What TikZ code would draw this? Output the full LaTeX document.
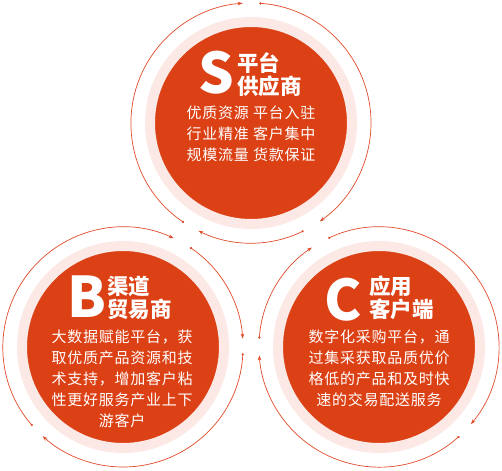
\documentclass[tikz,border=0pt]{standalone}
\usepackage{fontspec}
\setmainfont{Noto Sans CJK SC}
\usetikzlibrary{arrows.meta}
\definecolor{mainred}{HTML}{DC4115}
\definecolor{ringpink}{HTML}{FCE8E4}
\definecolor{arcred}{HTML}{E04A28}
\tikzset{
  disc/.style={circle, fill=mainred, draw=ringpink, line width=10pt, minimum size=202pt, inner sep=0pt},
  flowarc/.style={draw=arcred, line width=0.7pt, {Circle[length=2.2pt]}-{Stealth[length=5pt,width=3.5pt]}},
  bigletter/.style={text=white, font=\fontsize{56}{56}\selectfont\bfseries, inner sep=0pt},
  titletext/.style={text=white, font=\fontsize{21.5}{23}\selectfont\bfseries, align=left, inner sep=0pt},
  bodytext/.style={text=white, font=\fontsize{15}{21}\selectfont\addfontfeatures{LetterSpace=5}, align=center, inner sep=0pt}
}
\begin{document}
\begin{tikzpicture}[x=1pt,y=1pt]
\useasboundingbox (0,0) rectangle (502,470);
% discs
\node[disc] (S) at (251,347) {};
\node[disc] (B) at (123,123) {};
\node[disc] (C) at (379,123) {};
% outer arcs S
\draw[flowarc] ([shift={(86:120)}]S.center) arc[start angle=86, end angle=-55, radius=120];
\draw[flowarc] ([shift={(-64:120)}]S.center) arc[start angle=-64, end angle=-116, radius=120];
\draw[flowarc] ([shift={(236:120)}]S.center) arc[start angle=236, end angle=94, radius=120];
% outer arcs B
\draw[flowarc] ([shift={(56:120)}]B.center) arc[start angle=56, end angle=4, radius=120];
\draw[flowarc] ([shift={(-3:120)}]B.center) arc[start angle=-3, end angle=-132, radius=120];
\draw[flowarc] ([shift={(221:120)}]B.center) arc[start angle=221, end angle=65, radius=120];
% outer arcs C
\draw[flowarc] ([shift={(115:120)}]C.center) arc[start angle=115, end angle=-40, radius=120];
\draw[flowarc] ([shift={(-48:120)}]C.center) arc[start angle=-48, end angle=-176, radius=120];
\draw[flowarc] ([shift={(176:120)}]C.center) arc[start angle=176, end angle=124, radius=120];
% S texts
\node[bigletter] (Sl) at (216,397) {S};
\node[titletext, anchor=west] (St) at (237,395) {平台\\供应商};
\node[bodytext] (Sb) at (251,336) {优质资源 平台入驻\\行业精准 客户集中\\规模流量 货款保证};
% B texts
\node[bigletter] (Bl) at (87,173) {B};
\node[titletext, anchor=west] (Bt) at (107,172) {渠道\\贸易商};
\node[bodytext] (Bb) at (122,91) {大数据赋能平台，获\\取优质产品资源和技\\术支持，增加客户粘\\性更好服务产业上下\\游客户};
% C texts
\node[bigletter] (Cl) at (343,170) {C};
\node[titletext, anchor=west] (Ct) at (369,172) {应用\\客户端};
\node[bodytext] (Cb) at (379,102) {数字化采购平台，通\\过集采获取品质优价\\格低的产品和及时快\\速的交易配送服务};
\end{tikzpicture}
\end{document}
